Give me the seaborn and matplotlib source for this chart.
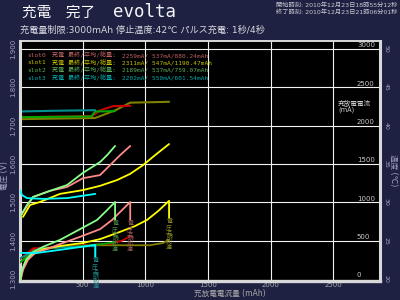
import numpy as np
import pandas as pd
import matplotlib
matplotlib.use("Agg")
import matplotlib.pyplot as plt
import matplotlib.transforms as mtransforms
import seaborn as sns

# ---------------- data ----------------
slots = ["slot0", "slot1", "slot2", "slot3"]

# voltage during pulse (V) vs charged capacity (mAh)
von_x = {
    "slot0": [0, 104, 240, 375, 503, 639, 719, 799, 880],
    "slot1": [24, 80, 160, 319, 503, 639, 774, 878, 982, 1078, 1190],
    "slot2": [0, 56, 104, 240, 375, 503, 639, 695, 759],
    "slot3": [0, 16, 56, 184, 375, 601],
}
von_v = {
    "slot0": [1.462, 1.514, 1.530, 1.540, 1.563, 1.571, 1.597, 1.623, 1.647],
    "slot1": [1.462, 1.493, 1.501, 1.522, 1.532, 1.543, 1.558, 1.574, 1.597, 1.623, 1.652],
    "slot2": [1.462, 1.493, 1.514, 1.530, 1.545, 1.577, 1.605, 1.623, 1.647],
    "slot3": [1.532, 1.519, 1.511, 1.509, 1.511, 1.522],
}
# voltage at rest (V)
voff_x = {
    "slot0": [0, 24, 64, 120, 216, 319, 479, 639, 735, 806, 880, 880],
    "slot1": [0, 16, 40, 80, 184, 319, 503, 639, 799, 918, 1014, 1102, 1190, 1190],
    "slot2": [0, 16, 48, 104, 184, 319, 439, 559, 615, 687, 759, 759],
    "slot3": [0, 136, 319, 601, 601],
}
voff_v = {
    "slot0": [1.290, 1.324, 1.350, 1.368, 1.378, 1.391, 1.410, 1.430, 1.454, 1.477, 1.501, 1.454],
    "slot1": [1.297, 1.318, 1.342, 1.360, 1.378, 1.386, 1.394, 1.404, 1.423, 1.438, 1.454, 1.477, 1.504, 1.459],
    "slot2": [1.292, 1.324, 1.350, 1.370, 1.384, 1.402, 1.423, 1.444, 1.454, 1.477, 1.501, 1.454],
    "slot3": [1.368, 1.368, 1.376, 1.389, 1.357],
}
# pulse current (mA)
cur_x = {
    "slot0": [0, 575, 640, 743, 880],
    "slot1": [0, 600, 760, 880, 1190],
    "slot2": [0, 570, 600, 759],
    "slot3": [0, 300, 601],
}
cur_ma = {
    "slot0": [2110, 2125, 2200, 2255, 2259],
    "slot1": [2085, 2100, 2200, 2300, 2311],
    "slot2": [2110, 2120, 2185, 2189],
    "slot3": [2185, 2195, 2202],
}
# temperature (deg C)
tmp_x = {
    "slot0": [0, 104, 503, 719, 815, 880],
    "slot1": [0, 104, 503, 1038, 1142, 1190],
    "slot2": [0, 160, 503, 679, 759],
    "slot3": [0, 160, 601, 601],
}
tmp_c = {
    "slot0": [22.6, 24.0, 24.4, 24.6, 25.0, 25.6],
    "slot1": [22.1, 23.8, 24.4, 24.4, 24.7, 25.1],
    "slot2": [22.2, 24.0, 24.3, 24.6, 24.8],
    "slot3": [22.7, 24.0, 24.3, 22.9],
}

legend_vals = {
    "slot0": "2259mA/ 537mA/880.24mAh",
    "slot1": "2311mA/ 547mA/1190.47mAh",
    "slot2": "2189mA/ 537mA/759.07mAh",
    "slot3": "2202mA/ 550mA/601.54mAh",
}
end_note = "電圧上限到達"

x_ticks = [500, 1000, 1500, 2000, 2500]
ma_ticks = [0, 500, 1000, 1500, 2000, 2500, 3000]
v_ticks = [1.3, 1.4, 1.5, 1.6, 1.7, 1.8, 1.9]
v_labels = ["1.300", "1.400", "1.500", "1.600", "1.700", "1.800", "1.900"]
t_ticks = [20, 25, 30, 35, 40, 45, 50]

# ---------------- styles ----------------
BG = "#1f2142"
bright = {"slot0": "#ff8a8a", "slot1": "#ffff00", "slot2": "#88ff88", "slot3": "#00ffff"}
dim = {"slot0": "#c80000", "slot1": "#808000", "slot2": "#00a800", "slot3": "#009090"}
legc = {"slot0": "#c06060", "slot1": "#c0c000", "slot2": "#5aac5a", "slot3": "#00acac"}
notec = {"slot0": "#a05a5a", "slot1": "#8a8a20", "slot2": "#4a8a4a", "slot3": "#208a8a"}


def long_df(xd, yd, name):
    rows = []
    for s in slots:
        for i, (a, b) in enumerate(zip(xd[s], yd[s])):
            rows.append({"slot": s, "mAh": a, name: b, "i": i})
    return pd.DataFrame(rows)


df_on = long_df(von_x, von_v, "V")
df_off = long_df(voff_x, voff_v, "V")
df_cur = long_df(cur_x, cur_ma, "mA")
df_tmp = long_df(tmp_x, tmp_c, "C")

sns.set_theme(style="dark")
plt.rcParams["font.family"] = ["DejaVu Sans", "Noto Sans CJK JP"]
MONO = ["DejaVu Sans Mono", "Noto Sans CJK JP"]

fig = plt.figure(figsize=(4, 3), dpi=100, facecolor=BG)
ax = fig.add_axes([20 / 400, 19 / 300, 360 / 400, 240 / 300])
ax.set_facecolor("black")
ax_t = ax.twinx()
ax_v = ax.twinx()

MA_LO, MA_HI = -26.1, 3104.3

order = ["slot1", "slot0", "slot2", "slot3"]
# current lines (main axes)
sns.lineplot(data=df_cur, x="mAh", y="mA", hue="slot", palette=dim, hue_order=order,
             sort=False, estimator=None, lw=1.5, legend=False, ax=ax)
# temperature
sns.lineplot(data=df_tmp, x="mAh", y="C", hue="slot", palette=dim, hue_order=order,
             sort=False, estimator=None, lw=1.3, legend=False, ax=ax_t)
# voltages
sns.lineplot(data=df_off, x="mAh", y="V", hue="slot", palette=bright, hue_order=order,
             sort=False, estimator=None, lw=1.3, legend=False, ax=ax_v)
sns.lineplot(data=df_on, x="mAh", y="V", hue="slot", palette=bright, hue_order=order,
             sort=False, estimator=None, lw=1.3, legend=False, ax=ax_v)

ax.set_xlim(0, 2874)
ax.set_ylim(MA_LO, MA_HI)
ax_v.set_ylim(1.3 + MA_LO / 5000, 1.3 + MA_HI / 5000)
ax_t.set_ylim(20 + MA_LO / 100, 20 + MA_HI / 100)

for a in (ax, ax_t, ax_v):
    a.set_xlabel("")
    a.set_ylabel("")

# grid + x ticks
ax.set_xticks(x_ticks)
ax.set_xticklabels([str(v) for v in x_ticks])
ax.set_yticks(ma_ticks[1:])
ax.grid(True, color="#f2f2f2", lw=0.8)
ax.tick_params(axis="x", length=0, pad=1, labelsize=5, labelcolor="#a8a8a8")
ax.tick_params(axis="y", left=False, labelleft=False, right=False, labelright=False)

# current labels inside plot
tr = mtransforms.blended_transform_factory(ax.transAxes, ax.transData)
for v in ma_ticks:
    ax.text(0.936, v + 10, str(v), transform=tr, ha="left", va="bottom",
            fontsize=5, color="#c8c8c8")
ax.text(0.883, 0.754, "充放電電流\n(mA)", transform=ax.transAxes, ha="left",
        va="top", fontsize=4.8, color="#c8c8c8", linespacing=0.9)

# voltage ticks (left)
ax_v.yaxis.tick_left()
ax_v.set_yticks(v_ticks)
ax_v.set_yticklabels(v_labels, rotation=90, va="center")
ax_v.tick_params(axis="y", length=0, pad=2.5, labelsize=5, labelcolor="#a4a4c4")

# temperature ticks (right)
ax_t.yaxis.tick_right()
ax_t.set_yticks(t_ticks)
ax_t.set_yticklabels([str(t) for t in t_ticks], rotation=-90, va="center")
ax_t.tick_params(axis="y", length=0, pad=2.5, labelsize=4.5, labelcolor="#a4a4c4")

for a in (ax_t, ax_v):
    for s in a.spines.values():
        s.set_visible(False)
for name, s in ax.spines.items():
    s.set_visible(True)
    s.set_color("#d8d8d8")
    s.set_linewidth({"left": 2.2, "right": 2.2, "bottom": 2.4, "top": 1.4}[name])

# end-of-charge notes (vertical text)
for s in slots:
    xe = voff_x[s][-1]
    ve = voff_v[s][-1]
    ax_v.text(xe, ve - 0.002, "\n".join(end_note), ha="center", va="top",
              fontsize=4.3, color=notec[s], linespacing=1.0,
              family=["Noto Sans CJK JP"])

# legend text block
for k, s in enumerate(slots):
    yy = 1 - (55.5 + 7.5 * k) / 300
    fig.text(27 / 400, yy, s, ha="left", va="center", fontsize=4.5,
             color=legc[s], family=MONO)
    fig.text(52 / 400, yy, "充電 最終/平均/総量:", ha="left", va="center",
             fontsize=4.4, color=legc[s], family=MONO)
    fig.text(122 / 400, yy, legend_vals[s], ha="left", va="center",
             fontsize=4.4, color=legc[s], family=MONO)

# titles
fig.text(22 / 400, 1 - 12.5 / 300, "充電\u3000完了", ha="left", va="center",
         fontsize=10.5, color="white", family=["Noto Sans CJK JP"])
fig.text(113 / 400, 1 - 12 / 300, "evolta", ha="left", va="center",
         fontsize=12.5, color="#f4f4f4", family=MONO)
fig.text(20 / 400, 1 - 30 / 300, "充電量制限:3000mAh 停止温度:42℃ パルス充電: 1秒/4秒",
         ha="left", va="center", fontsize=6.6, color="#d8d8e0")
fig.text(397 / 400, 1 - 5.5 / 300, "開始時刻: 2010年12月23日18時55分12秒",
         ha="right", va="center", fontsize=4.5, color="#c8c8d0")
fig.text(397 / 400, 1 - 12.5 / 300, "終了時刻: 2010年12月23日21時06分01秒",
         ha="right", va="center", fontsize=4.5, color="#c8c8d0")

# axis titles
fig.text(5 / 400, 1 - 176 / 300, "電圧 (V)", rotation=90, ha="center", va="center",
         fontsize=5.5, color="#a4a4c4")
fig.text(394 / 400, 1 - 170 / 300, "温度 (℃)", rotation=-90, ha="center", va="center",
         fontsize=5.5, color="#a4a4c4")
fig.text(230 / 400, 1 - 293 / 300, "充放電電流量 (mAh)", ha="center", va="center",
         fontsize=5.5, color="#a8a8a8")

fig.savefig("out.png", dpi=100, facecolor=BG)
